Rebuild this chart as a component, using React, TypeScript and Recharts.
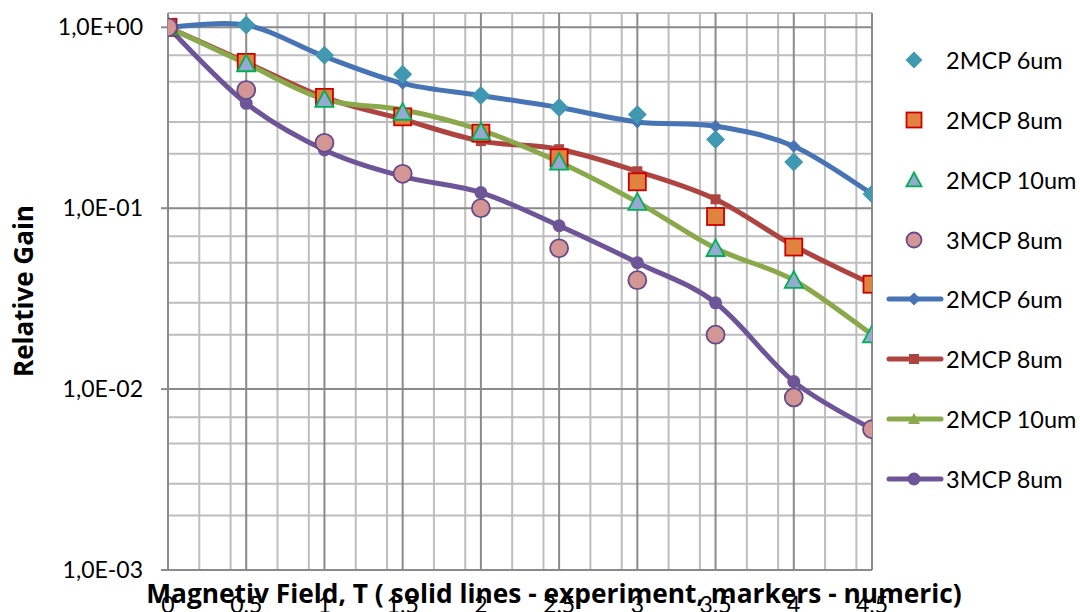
import React from 'react';
import { ComposedChart, Line, Scatter, XAxis, YAxis, CartesianGrid } from 'recharts';

// Magnetic field, T
const fieldT = [0, 0.5, 1, 1.5, 2, 2.5, 3, 3.5, 4, 4.5];

// numeric (markers)
const num2mcp6 = [1.0, 1.03, 0.7, 0.55, 0.42, 0.36, 0.33, 0.24, 0.18, 0.12];
const num2mcp8 = [1.0, 0.64, 0.41, 0.32, 0.26, 0.19, 0.14, 0.09, 0.061, 0.038];
const num2mcp10 = [1.0, 0.63, 0.4, 0.34, 0.265, 0.18, 0.108, 0.06, 0.04, 0.02];
const num3mcp8 = [1.0, 0.45, 0.23, 0.155, 0.1, 0.06, 0.04, 0.02, 0.009, 0.006];

// experiment (solid lines)
const exp2mcp6 = [1.0, 1.03, 0.69, 0.49, 0.42, 0.36, 0.3, 0.284, 0.22, 0.12];
const exp2mcp8 = [1.0, 0.64, 0.41, 0.31, 0.235, 0.212, 0.16, 0.112, 0.062, 0.038];
const exp2mcp10 = [1.0, 0.63, 0.4, 0.35, 0.27, 0.18, 0.108, 0.06, 0.04, 0.02];
const exp3mcp8 = [1.0, 0.38, 0.21, 0.15, 0.122, 0.08, 0.05, 0.03, 0.011, 0.006];

const xTicks = [0, 0.5, 1, 1.5, 2, 2.5, 3, 3.5, 4, 4.5];
const yTicks = [1, 0.1, 0.01, 0.001];
const xMinor = Array.from({ length: 46 }, (_, i) => i / 10).filter((_, i) => i % 5 !== 0);
const yMinor = [1.2, 0.9, 0.8, 0.7, 0.6, 0.5, 0.4, 0.3, 0.2, 0.09, 0.08, 0.07, 0.06, 0.05, 0.04, 0.03, 0.02,
  0.009, 0.008, 0.007, 0.006, 0.005, 0.004, 0.003, 0.002];

const rows = (vals: number[]) => fieldT.map((x, i) => ({ x, y: vals[i] }));

const FONT = 'Lato, "Open Sans", sans-serif';
const BOLD_FONT = '"Open Sans", Lato, sans-serif';

// Excel-like smoothing (Catmull-Rom as bezier)
const excelCurve = (ctx: any) => {
  let pts: number[][] = [];
  return {
    areaStart() {},
    areaEnd() {},
    lineStart() {
      pts = [];
    },
    point(x: number, y: number) {
      pts.push([+x, +y]);
    },
    lineEnd() {
      const n = pts.length;
      if (!n) return;
      ctx.moveTo(pts[0][0], pts[0][1]);
      for (let i = 0; i < n - 1; i++) {
        const p0 = pts[Math.max(i - 1, 0)];
        const p1 = pts[i];
        const p2 = pts[i + 1];
        const p3 = pts[Math.min(i + 2, n - 1)];
        ctx.bezierCurveTo(
          p1[0] + (p2[0] - p0[0]) / 6,
          p1[1] + (p2[1] - p0[1]) / 6,
          p2[0] - (p3[0] - p1[0]) / 6,
          p2[1] - (p3[1] - p1[1]) / 6,
          p2[0],
          p2[1]
        );
      }
    },
  };
};

type Shape = 'diamond' | 'square' | 'triangle' | 'circle';

const marker = (shape: Shape, cx: number, cy: number, s: number, fill: string, stroke?: string, sw = 0) => {
  const h = s / 2;
  const common = { fill, stroke: stroke || 'none', strokeWidth: sw };
  if (shape === 'diamond') return <path d={`M${cx},${cy - h}L${cx + h},${cy}L${cx},${cy + h}L${cx - h},${cy}Z`} {...common} />;
  if (shape === 'square') return <rect x={cx - h} y={cy - h} width={s} height={s} {...common} />;
  if (shape === 'triangle')
    return <path d={`M${cx},${cy - h}L${cx + h},${cy + h * 0.85}L${cx - h},${cy + h * 0.85}Z`} {...common} />;
  return <circle cx={cx} cy={cy} r={h} {...common} />;
};

const numSeries = [
  { name: '2MCP 6um', data: num2mcp6, shape: 'diamond' as Shape, fill: '#4199B1', stroke: undefined, sw: 0, size: 19 },
  { name: '2MCP 8um', data: num2mcp8, shape: 'square' as Shape, fill: '#E0833E', stroke: '#CC0000', sw: 1.8, size: 17 },
  { name: '2MCP 10um', data: num2mcp10, shape: 'triangle' as Shape, fill: '#95AAD3', stroke: '#00B050', sw: 1.8, size: 18 },
  { name: '3MCP 8um', data: num3mcp8, shape: 'circle' as Shape, fill: '#D49694', stroke: '#634A8C', sw: 1.8, size: 18 },
];

const expSeries = [
  { name: '2MCP 6um', data: exp2mcp6, shape: 'diamond' as Shape, color: '#4674B4', size: 13 },
  { name: '2MCP 8um', data: exp2mcp8, shape: 'square' as Shape, color: '#AE4440', size: 10 },
  { name: '2MCP 10um', data: exp2mcp10, shape: 'triangle' as Shape, color: '#89A94B', size: 12 },
  { name: '3MCP 8um', data: exp3mcp8, shape: 'circle' as Shape, color: '#6E5598', size: 13 },
];

const fmtExp = (v: number) => {
  const e = Math.round(Math.log10(v));
  return '1,0E' + (e >= 0 ? '+' : '-') + String(Math.abs(e)).padStart(2, '0');
};

const Legend = () => (
  <svg width={200} height={520} style={{ position: 'absolute', left: 880, top: 0 }}>
    {numSeries.map((s, i) => (
      <g key={'n' + i}>
        {marker(s.shape, 34, 60 + i * 60, s.shape === 'diamond' ? 17 : 15, s.fill, s.stroke, s.sw)}
        <text x={66} y={60 + i * 60} dominantBaseline="central" fontSize={23.5} fontFamily={FONT} fill="#000">
          {s.name}
        </text>
      </g>
    ))}
    {expSeries.map((s, i) => (
      <g key={'e' + i}>
        <line x1={9} x2={61} y1={299 + i * 60} y2={299 + i * 60} stroke={s.color} strokeWidth={5} strokeLinecap="round" />
        {marker(s.shape, 34, 299 + i * 60, s.size, s.color)}
        <text x={66} y={299 + i * 60} dominantBaseline="central" fontSize={23.5} fontFamily={FONT} fill="#000">
          {s.name}
        </text>
      </g>
    ))}
  </svg>
);

export default function App() {
  return (
    <div style={{ position: 'absolute', left: 0, top: 0, width: 1080, height: 612, background: '#fff', overflow: 'hidden' }}>
      <ComposedChart width={1080} height={612} margin={{ top: 13, right: 208, bottom: 0, left: 0 }}>
        <CartesianGrid stroke="#bdbdbd" strokeWidth={2} verticalValues={xMinor} horizontalValues={yMinor} />
        <CartesianGrid stroke="#8a8a8a" strokeWidth={2} verticalValues={xTicks} horizontalValues={yTicks} />
        <XAxis
          type="number"
          dataKey="x"
          domain={[0, 4.5]}
          ticks={xTicks}
          height={42}
          tickLine={false}
          tickSize={0}
          tickMargin={27}
          axisLine={{ stroke: '#8a8a8a', strokeWidth: 2 }}
          tick={{ fontSize: 23, fontFamily: FONT, fill: '#000' }}
          allowDataOverflow
          label={() => (
            <text x={554} y={603} textAnchor="middle" fontSize={26.3} fontWeight="bold" fontFamily={BOLD_FONT} fill="#000">
              Magnetiv Field, T ( solid lines - experiment, markers - numeric)
            </text>
          )}
        />
        <YAxis
          type="number"
          scale="log"
          domain={[0.001, 1.2]}
          ticks={yTicks}
          width={168}
          tickSize={7}
          tickMargin={18}
          tickFormatter={fmtExp}
          tickLine={{ stroke: '#8a8a8a', strokeWidth: 2 }}
          axisLine={{ stroke: '#8a8a8a', strokeWidth: 2 }}
          tick={{ fontSize: 23, fontFamily: FONT, fill: '#000' }}
          allowDataOverflow
          label={() => (
            <text
              x={23}
              y={291}
              transform="rotate(-90 23 291)"
              textAnchor="middle"
              dominantBaseline="central"
              fontSize={26}
              fontWeight="bold"
              fontFamily={BOLD_FONT}
              fill="#000"
            >
              Relative Gain
            </text>
          )}
        />
        {expSeries.map((s) => (
          <Line
            key={'l' + s.name}
            data={rows(s.data)}
            dataKey="y"
            name={s.name}
            type={excelCurve as any}
            stroke={s.color}
            strokeWidth={5}
            isAnimationActive={false}
            dot={(p: any) => <g key={p.index}>{marker(s.shape, p.cx, p.cy, s.size, s.color)}</g>}
            activeDot={false}
          />
        ))}
        {numSeries.map((s) => (
          <Scatter
            key={'s' + s.name}
            data={rows(s.data)}
            dataKey="y"
            name={s.name}
            isAnimationActive={false}
            shape={(p: any) => marker(s.shape, p.cx, p.cy, s.size, s.fill, s.stroke, s.sw)}
          />
        ))}
      </ComposedChart>
      <Legend />
    </div>
  );
}
